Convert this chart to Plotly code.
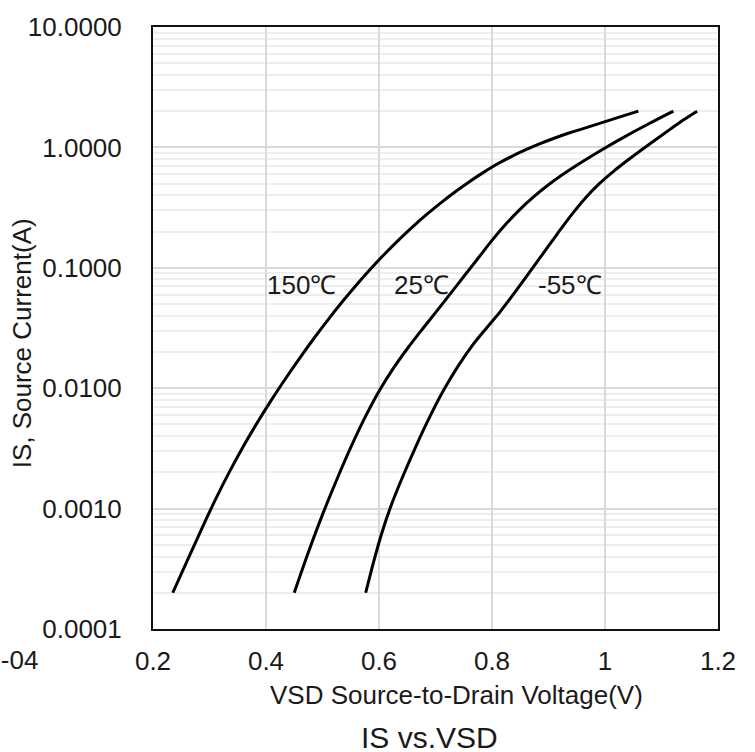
import plotly.graph_objects as go

# ---- data ----
v_150 = [0.235, 0.26, 0.285, 0.31, 0.335, 0.36, 0.385, 0.41, 0.435, 0.46, 0.485, 0.51,
         0.535, 0.56, 0.585, 0.61, 0.635, 0.66, 0.685, 0.71, 0.735, 0.76, 0.785, 0.81,
         0.835, 0.86, 0.885, 0.91, 0.935, 0.96, 0.985, 1.01, 1.035, 1.059]
i_150 = [2.0e-4, 3.652e-4, 6.607e-4, 1.175e-3, 2.007e-3, 3.293e-3, 5.218e-3, 8.035e-3,
         1.209e-2, 1.788e-2, 2.600e-2, 3.715e-2, 5.218e-2, 7.204e-2, 9.772e-2, 0.1303,
         0.1708, 0.2200, 0.2786, 0.3477, 0.4278, 0.5188, 0.6202, 0.7306, 0.8435, 0.9576,
         1.0745, 1.192, 1.311, 1.425, 1.553, 1.694, 1.846, 2.0]

v_25 = [0.450, 0.475, 0.500, 0.525, 0.550, 0.575, 0.600, 0.625, 0.650, 0.675, 0.700,
        0.725, 0.750, 0.775, 0.800, 0.825, 0.850, 0.875, 0.900, 0.925, 0.950, 0.975,
        1.000, 1.025, 1.050, 1.075, 1.100, 1.121]
i_25 = [2.0e-4, 4.34e-4, 8.91e-4, 1.728e-3, 3.218e-3, 5.69e-3, 9.44e-3, 1.454e-2,
        2.126e-2, 3.02e-2, 4.24e-2, 5.99e-2, 8.46e-2, 0.1195, 0.1688, 0.2317, 0.3073,
        0.3936, 0.4898, 0.5957, 0.7117, 0.8414, 0.9886, 1.155, 1.341, 1.549, 1.782, 2.0]

v_m55 = [0.5765, 0.59, 0.605, 0.62, 0.64, 0.665, 0.69, 0.715, 0.74, 0.765, 0.79, 0.815,
         0.84, 0.865, 0.89, 0.915, 0.94, 0.965, 0.99, 1.015, 1.04, 1.065, 1.09, 1.115,
         1.14, 1.163]
i_m55 = [2.0e-4, 3.548e-4, 6.273e-4, 1.017e-3, 1.752e-3, 3.263e-3, 5.801e-3, 9.739e-3,
         1.526e-2, 2.257e-2, 3.151e-2, 4.35e-2, 6.216e-2, 8.984e-2, 0.1306, 0.1899,
         0.2729, 0.3789, 0.4995, 0.6324, 0.7824, 0.9572, 1.164, 1.412, 1.707, 2.0]

series_names = ["150℃", "25℃", "-55℃"]
x_ticks = [0.2, 0.4, 0.6, 0.8, 1.0, 1.2]
x_tick_text = ["0.2", "0.4", "0.6", "0.8", "1", "1.2"]
y_ticks = [0.0001, 0.001, 0.01, 0.1, 1, 10]

FONT = "Liberation Sans, Arial, sans-serif"
TXT = "#1a1a1a"

fig = go.Figure()
for vx, iy, nm in [(v_150, i_150, series_names[0]),
                   (v_25, i_25, series_names[1]),
                   (v_m55, i_m55, series_names[2])]:
    fig.add_trace(go.Scatter(x=vx, y=iy, mode="lines", name=nm,
                             line=dict(color="black", width=3, shape="spline", smoothing=1.0),
                             showlegend=False))

# curve labels
label_pos = [(0.462, -1.14), (0.6756, -1.14), (0.938, -1.14)]
for nm, (lx, ly) in zip(series_names, label_pos):
    fig.add_annotation(x=lx, y=ly, xref="x", yref="y", text=nm, showarrow=False,
                       font=dict(size=26, color=TXT, family=FONT),
                       xanchor="center", yanchor="middle")

# axis titles / chart title as annotations
fig.add_annotation(x=-0.2319, y=0.4745, xref="paper", yref="paper",
                   text="IS, Source Current(A)", textangle=-90, showarrow=False,
                   font=dict(size=26, color=TXT, family=FONT),
                   xanchor="center", yanchor="middle")
fig.add_annotation(x=0.537, y=-0.1104, xref="paper", yref="paper",
                   text="VSD Source-to-Drain Voltage(V)", showarrow=False,
                   font=dict(size=26, color=TXT, family=FONT),
                   xanchor="center", yanchor="middle")
fig.add_annotation(x=0.490, y=-0.1796, xref="paper", yref="paper",
                   text="IS vs.VSD", showarrow=False,
                   font=dict(size=30, color=TXT, family=FONT),
                   xanchor="center", yanchor="middle")
fig.add_annotation(x=-0.2000, y=-0.0511, xref="paper", yref="paper",
                   text="1E-04", showarrow=False,
                   font=dict(size=26, color=TXT, family=FONT),
                   xanchor="right", yanchor="middle")

fig.update_xaxes(range=[0.2, 1.2], tickvals=x_ticks, ticktext=x_tick_text,
                 showgrid=True, gridcolor="#d9d9d9", gridwidth=1.5,
                 showline=True, mirror=True, linecolor="#111", linewidth=2,
                 zeroline=False, ticks="", ticklabelstandoff=8,
                 tickfont=dict(size=26, color=TXT, family=FONT))
fig.update_yaxes(type="log", range=[-4, 1], tickvals=y_ticks, tickformat=".4f",
                 showgrid=True, gridcolor="#d9d9d9", gridwidth=1.5,
                 minor=dict(showgrid=True, gridcolor="#eeeeee", gridwidth=1.5, dtick="D1"),
                 showline=True, mirror=True, linecolor="#111", linewidth=2,
                 zeroline=False, ticks="", ticklabelstandoff=24,
                 tickfont=dict(size=26, color=TXT, family=FONT))

fig.update_layout(width=755, height=752,
                  margin=dict(l=153, r=37, t=22, b=123),
                  paper_bgcolor="white", plot_bgcolor="white",
                  font=dict(family=FONT, color=TXT))

fig.write_html("out.html")
